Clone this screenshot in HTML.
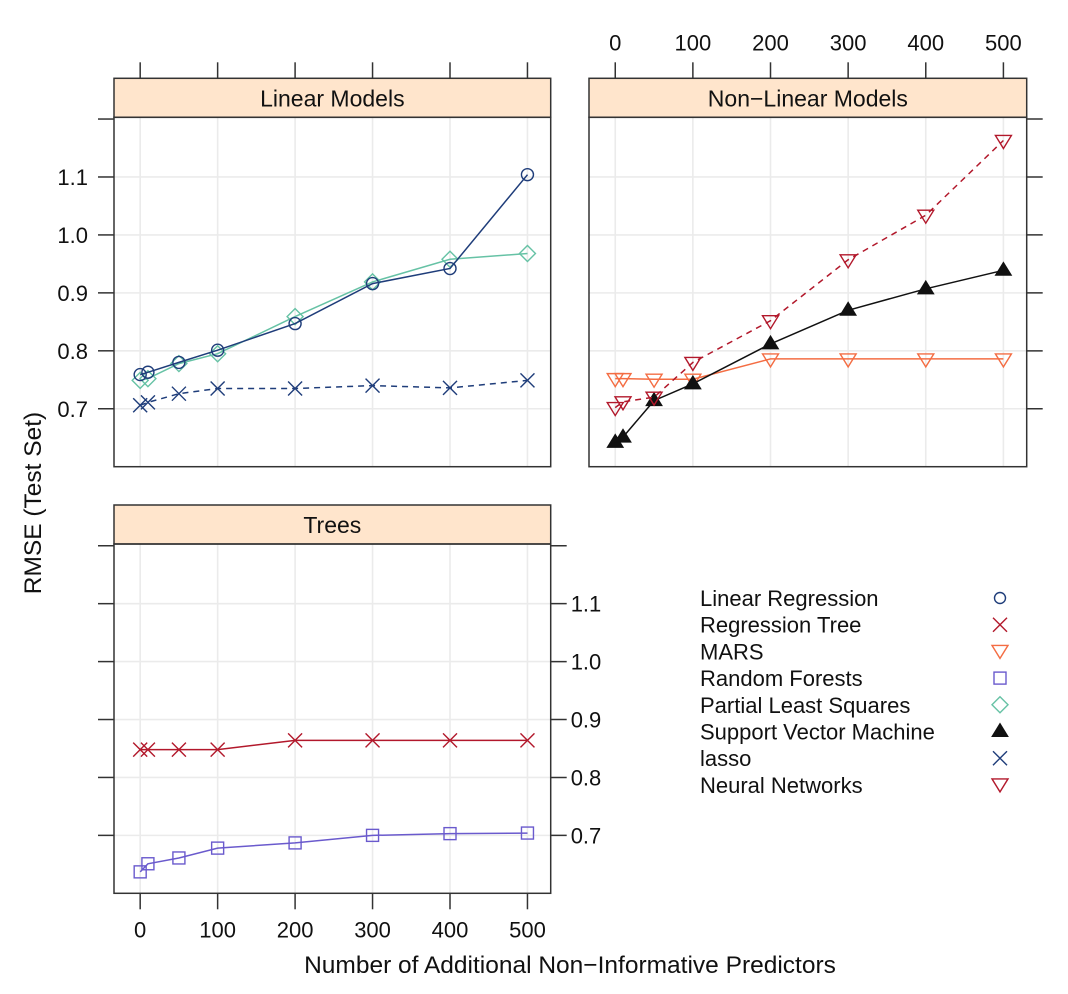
<!DOCTYPE html>
<html><head><meta charset="utf-8"><style>
html,body{margin:0;padding:0;background:#fff;}
svg{display:block;font-family:"Liberation Sans",sans-serif;}
</style></head><body>
<svg id="chart" width="1068" height="994" viewBox="0 0 1068 994" xmlns="http://www.w3.org/2000/svg">
<g id="layer"></g>
</svg>
<script>
const xValues = [0, 10, 50, 100, 200, 300, 400, 500];
const xTicks = [0, 100, 200, 300, 400, 500];
const yTicks = [0.7, 0.8, 0.9, 1.0, 1.1];
const yTickLabels = ["0.7", "0.8", "0.9", "1.0", "1.1"];
const linearRegression = [0.759, 0.763, 0.780, 0.801, 0.847, 0.916, 0.942, 1.104];
const pls = [0.749, 0.752, 0.778, 0.795, 0.859, 0.919, 0.958, 0.968];
const lasso = [0.706, 0.711, 0.726, 0.735, 0.735, 0.740, 0.736, 0.749];
const neuralNet = [0.702, 0.712, 0.720, 0.780, 0.852, 0.957, 1.034, 1.163];
const mars = [0.752, 0.752, 0.751, 0.751, 0.786, 0.786, 0.786, 0.786];
const svm = [0.642, 0.651, 0.714, 0.743, 0.812, 0.870, 0.907, 0.939];
const regTree = [0.848, 0.848, 0.848, 0.848, 0.864, 0.864, 0.864, 0.864];
const randomForest = [0.637, 0.651, 0.661, 0.678, 0.687, 0.700, 0.703, 0.704];
const legendLabels = ["Linear Regression","Regression Tree","MARS","Random Forests","Partial Least Squares","Support Vector Machine","lasso","Neural Networks"];

const NS = "http://www.w3.org/2000/svg";
const layer = document.getElementById('layer');
function mk(tag, attrs, parent){const e=document.createElementNS(NS,tag);for(const k in attrs)e.setAttribute(k,attrs[k]);(parent||layer).appendChild(e);return e;}

const X0=-33.8, X1=530, Y0=0.6, Y1=1.203;
const FS=22;
function panel(left, right, top, bottom){
  return {left,right,top,bottom,
    x:v=>left+(v-X0)/(X1-X0)*(right-left),
    y:v=>bottom-(v-Y0)/(Y1-Y0)*(bottom-top)};
}
const COL={lr:"#1f3d7a",rt:"#b2182b",mars:"#f46d43",rf:"#6a5acd",pls:"#66c2a5",svm:"#111",lasso:"#1f3d7a",nn:"#b2182b"};

function marker(g,type,cx,cy,color){
  const s=7;
  if(type==='circle'){const e=mk('circle',{cx,cy,r:6,fill:'none',stroke:color,'stroke-width':1.4},g);}
  else if(type==='x'){const e=mk('path',{d:`M${cx-s} ${cy-s}L${cx+s} ${cy+s}M${cx-s} ${cy+s}L${cx+s} ${cy-s}`,stroke:color,'stroke-width':1.4,fill:'none'},g);}
  else if(type==='down'){const e=mk('path',{d:`M${cx-8} ${cy-5}L${cx+8} ${cy-5}L${cx} ${cy+8}Z`,stroke:color,'stroke-width':1.4,fill:'none'},g);}
  else if(type==='up'){const e=mk('path',{d:`M${cx-8} ${cy+5}L${cx+8} ${cy+5}L${cx} ${cy-8}Z`,fill:color,stroke:color},g);}
  else if(type==='square'){const e=mk('rect',{x:cx-6,y:cy-6,width:12,height:12,fill:'none',stroke:color,'stroke-width':1.4},g);}
  else if(type==='diamond'){const e=mk('path',{d:`M${cx} ${cy-8}L${cx+8} ${cy}L${cx} ${cy+8}L${cx-8} ${cy}Z`,fill:'none',stroke:color,'stroke-width':1.4},g);}
}
function series(p,name,vals,type,color,dashed){
  const g=mk('g',{});
  
  
  const d=vals.map((v,i)=>(i?'L':'M')+p.x(xValues[i]).toFixed(1)+' '+p.y(v).toFixed(1)).join('');
  const a={d,fill:'none',stroke:color,'stroke-width':1.5};
  if(dashed)a['stroke-dasharray']='6,5';
  mk('path',a,g);
  vals.forEach((v,i)=>marker(g,type,p.x(xValues[i]),p.y(v),color));
}
function drawPanel(p,name,title,stripTop,opts){
  const g=mk('g',{});
  
  
  xTicks.forEach(t=>mk('line',{x1:p.x(t),x2:p.x(t),y1:p.top,y2:p.bottom,stroke:'#ebebeb','stroke-width':1.6},g));
  yTicks.forEach(t=>mk('line',{x1:p.left,x2:p.right,y1:p.y(t),y2:p.y(t),stroke:'#ebebeb','stroke-width':1.6},g));
  const s=mk('rect',{x:p.left,y:stripTop,width:p.right-p.left,height:p.top-stripTop,fill:'#ffe5cc',stroke:'#333','stroke-width':1.5},g);
  
  const tt=mk('text',{x:(p.left+p.right)/2,y:stripTop+28,'text-anchor':'middle','font-size':23,fill:'#111'},g);
  tt.textContent=title;
  mk('rect',{x:p.left,y:p.top,width:p.right-p.left,height:p.bottom-p.top,fill:'none',stroke:'#333','stroke-width':1.5},g);
  xTicks.forEach(t=>{
    const x=p.x(t);
    if(opts.topTicks){mk('line',{x1:x,x2:x,y1:stripTop,y2:stripTop-16,stroke:'#333','stroke-width':1.5},g);}
    if(opts.topLabels){const e=mk('text',{x,y:stripTop-28,'text-anchor':'middle','font-size':FS,fill:'#111'},g);e.textContent=t;}
    if(opts.bottomTicks){mk('line',{x1:x,x2:x,y1:p.bottom,y2:p.bottom+16,stroke:'#333','stroke-width':1.5},g);
      const e=mk('text',{x,y:p.bottom+44,'text-anchor':'middle','font-size':FS,fill:'#111'},g);e.textContent=t;}
  });
  const ylines=[...yTicks,1.2];
  ylines.forEach((t,i)=>{
    const y=p.y(t);
    if(opts.leftTicks)mk('line',{x1:p.left,x2:p.left-16,y1:y,y2:y,stroke:'#333','stroke-width':1.5},g);
    if(opts.rightTicks)mk('line',{x1:p.right,x2:p.right+16,y1:y,y2:y,stroke:'#333','stroke-width':1.5},g);
    if(i<yTicks.length){
      if(opts.leftLabels){const e=mk('text',{x:p.left-26,y:y+8,'text-anchor':'end','font-size':FS,fill:'#111'},g);e.textContent=yTickLabels[i];}
      if(opts.rightLabels){const e=mk('text',{x:p.right+20,y:y+8,'text-anchor':'start','font-size':FS,fill:'#111'},g);e.textContent=yTickLabels[i];}
    }
  });
}
const pL=panel(114,550.7,117.3,466.7);
const pN=panel(589,1026.7,117.3,466.7);
const pT=panel(114,550.7,544,893.3);
drawPanel(pL,'linear-models-panel','Linear Models',78.3,{topTicks:true,leftTicks:true,leftLabels:true});
drawPanel(pN,'non-linear-models-panel','Non\u2212Linear Models',78.3,{topTicks:true,topLabels:true,rightTicks:true});
drawPanel(pT,'trees-panel','Trees',505,{bottomTicks:true,leftTicks:true,rightTicks:true,rightLabels:true});

series(pL,'series-pls',pls,'diamond',COL.pls,false);
series(pL,'series-linear-regression',linearRegression,'circle',COL.lr,false);
series(pL,'series-lasso',lasso,'x',COL.lasso,true);
series(pN,'series-mars',mars,'down',COL.mars,false);
series(pN,'series-svm',svm,'up',COL.svm,false);
series(pN,'series-neural-networks',neuralNet,'down',COL.nn,true);
series(pT,'series-regression-tree',regTree,'x',COL.rt,false);
series(pT,'series-random-forests',randomForest,'square',COL.rf,false);

const legTypes=['circle','x','down','square','diamond','up','x','down'];
const legCols=[COL.lr,COL.rt,COL.mars,COL.rf,COL.pls,COL.svm,COL.lasso,COL.nn];
const lg=mk('g',{});


legendLabels.forEach((lab,i)=>{
  const y=598+i*26.7;
  const eg=mk('g',{},lg);
  
  
  const t=mk('text',{x:700,y:y+8,'font-size':FS,fill:'#111'},eg);t.textContent=lab;
  const mt=legTypes[i];
  if(mt==='circle'){mk('circle',{cx:1000,cy:y,r:5.5,fill:'none',stroke:legCols[i],'stroke-width':1.4},eg);}
  else marker(eg,mt,1000,y+(mt==='down'?-1:0),legCols[i]);
});
const xt=mk('text',{x:570,y:973,'text-anchor':'middle','font-size':24.5,fill:'#111'});
xt.textContent='Number of Additional Non\u2212Informative Predictors';

const yt=mk('text',{x:0,y:0,'text-anchor':'middle','font-size':24.5,fill:'#111',transform:'translate(41,503) rotate(-90)'});
yt.textContent='RMSE (Test Set)';

</script>
</body></html>
